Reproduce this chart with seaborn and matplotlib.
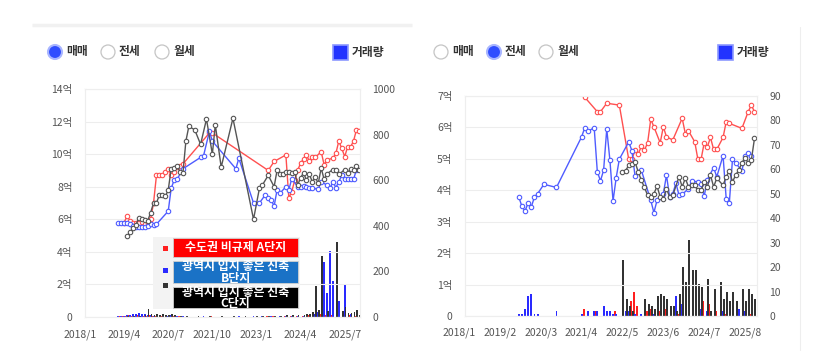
import matplotlib
matplotlib.use("Agg")
import matplotlib.pyplot as plt
from matplotlib.patches import Circle, Rectangle
from matplotlib.transforms import blended_transform_factory, offset_copy
import numpy as np
import seaborn as sns

# month index counted from 2018/1 (0 = 2018/1)

# ---- 매매 panel: prices in 억 ----
sale_a_month = [15, 16, 17, 18, 19, 20, 21, 22, 23, 24, 25, 26, 27, 28, 29, 30, 31, 32, 33, 34, 35, 44, 45,
                64, 66, 70, 71, 72, 73, 74, 75, 76, 77, 78, 79, 80, 82, 83, 84, 86, 87, 88, 89, 90, 91, 92, 93, 94, 95]
sale_a_price = [5.8, 6.2, 5.9, 5.8, 5.75, 5.8, 5.85, 5.7, 5.8, 6.0, 7.0, 8.7, 8.7, 8.7, 8.9, 9.1, 8.7, 8.9, 9.2, 9.3, 9.4, 11.3, 11.3,
                9.0, 9.55, 9.95, 7.3, 7.7, 8.4, 9.0, 9.45, 9.7, 9.95, 9.55, 9.85, 9.8, 10.15, 9.35, 9.65, 9.75, 10.05, 10.8, 10.35, 9.85, 10.45, 10.45, 10.8, 11.5, 11.4]

sale_b_month = [13, 14, 15, 16, 17, 18, 19, 20, 21, 22, 23, 24, 25, 26, 30, 31, 32, 33, 35, 41, 42, 44, 45, 53, 54,
                59, 61, 63, 64, 65, 66, 67, 68, 70, 71, 72, 74, 75, 76, 77, 78, 79, 81, 82, 84, 85, 86, 87, 88, 89, 90, 91, 92, 93, 94]
sale_b_price = [5.8, 5.75, 5.75, 5.8, 5.7, 5.6, 5.55, 5.5, 5.5, 5.5, 5.6, 5.7, 5.65, 5.7, 6.5, 7.9, 8.4, 8.45, 9.1, 9.8, 9.9, 11.4, 10.8, 9.1, 9.75,
                7.0, 7.0, 7.5, 7.3, 7.2, 6.8, 7.8, 7.6, 8.0, 7.8, 8.5, 8.0, 8.0, 8.05, 8.0, 7.9, 7.9, 7.85, 8.3, 8.1, 7.9, 8.3, 7.95, 8.3, 8.7, 8.5, 8.45, 8.45, 8.45, 9.05]

sale_c_month = [16, 17, 18, 19, 20, 21, 22, 23, 24, 25, 26, 27, 28, 29, 30, 31, 32, 33, 34, 35, 36, 37, 39, 41, 43, 45, 46, 48, 52,
                59, 61, 62, 64, 66, 67, 68, 69, 70, 71, 72, 73, 74, 75, 76, 77, 78, 79, 80, 81, 82, 83, 84, 86, 87, 88, 90, 91, 92, 93, 94, 95]
sale_c_price = [4.95, 5.2, 5.45, 5.65, 6.1, 6.0, 5.95, 5.9, 6.4, 7.0, 7.0, 7.5, 7.5, 7.4, 7.8, 9.1, 9.15, 9.3, 8.9, 8.85, 10.8, 11.7, 11.5, 10.6, 12.15, 10.0, 11.8, 9.2, 12.2,
                6.0, 7.9, 8.1, 8.7, 8.0, 9.0, 8.75, 8.75, 8.9, 8.9, 8.85, 8.9, 8.1, 8.55, 8.85, 8.4, 8.75, 8.3, 8.6, 8.2, 9.15, 8.45, 8.8, 9.05, 9.0, 8.75, 9.05, 8.85, 9.1, 9.05, 9.3, 9.05]

# 매매 거래량
sale_a_vol_month = [14, 15, 16, 17, 18, 19, 20, 21, 22, 23, 24, 25, 26, 28, 30, 32, 34, 45, 64, 66, 70, 72, 74, 76, 78, 80, 82, 84, 86, 88, 90, 92, 94]
sale_a_vol = [4, 6, 5, 8, 6, 5, 7, 4, 6, 5, 8, 6, 5, 4, 6, 4, 3, 3, 4, 5, 6, 5, 6, 4, 8, 10, 12, 9, 8, 10, 14, 9, 6]
sale_b_vol_month = [13, 14, 15, 16, 17, 18, 19, 20, 21, 22, 23, 24, 25, 26, 30, 31, 33, 35, 42, 44, 54, 59, 62, 65, 68, 70, 72, 74, 76, 78, 80, 81,
                    83, 84, 85, 86, 88, 90, 92, 94]
sale_b_vol = [4, 5, 6, 8, 10, 12, 14, 16, 15, 12, 10, 8, 6, 5, 5, 8, 6, 4, 3, 3, 3, 4, 3, 4, 5, 5, 6, 5, 6, 8, 12, 20,
              240, 107, 290, 157, 69, 139, 12, 10]
sale_c_vol_month = [16, 18, 20, 22, 23, 24, 25, 26, 27, 28, 29, 30, 31, 32, 34, 36, 40, 44, 48, 52, 56, 60, 62, 64, 66, 68, 70, 72, 74, 76, 77, 78, 79,
                    80, 81, 82, 84, 87, 89, 90, 91, 92, 93, 94, 95]
sale_c_vol = [4, 5, 6, 8, 33, 12, 10, 14, 9, 11, 8, 10, 12, 7, 6, 5, 4, 5, 3, 4, 3, 4, 5, 6, 5, 6, 8, 7, 9, 10, 12, 15, 22,
              136, 30, 269, 25, 329, 25, 43, 17, 17, 20, 29, 10]

# ---- 전세 panel ----
jeonse_a_month = [40, 44, 45, 47, 51, 54, 55, 56, 57, 58, 59, 60, 61, 62, 64, 65, 66, 68, 71, 72, 73, 75, 76, 77, 78, 79, 80, 81, 82,
                  84, 85, 86, 90, 92, 93, 94]
jeonse_a_price = [6.96, 6.5, 6.5, 6.77, 6.71, 4.98, 4.98, 5.28, 5.15, 5.4, 5.28, 5.51, 6.26, 6.02, 5.51, 6.02, 5.7, 5.6, 6.29, 5.8, 5.89, 5.54,
                  4.98, 4.98, 5.51, 5.38, 5.68, 5.3, 5.3, 5.68, 6.18, 6.13, 5.97, 6.5, 6.71, 6.5]

jeonse_b_month = [19, 20, 21, 22, 23, 24, 25, 27, 31, 39, 40, 41, 43, 44, 45, 46, 47, 48, 49, 50, 51, 54, 55, 56, 58, 61, 62, 63, 65, 66,
                  67, 68, 69, 70, 71, 73, 74, 76, 77, 78, 79, 81, 82, 84, 85, 86, 87, 88, 90, 91, 92, 93]
jeonse_b_price = [3.79, 3.49, 3.34, 3.6, 3.47, 3.79, 3.89, 4.19, 4.09, 5.7, 5.99, 5.88, 5.99, 4.59, 4.3, 4.64, 5.95, 4.96, 3.66, 4.4, 4.99,
                  5.54, 5.26, 4.45, 4.64, 3.68, 3.29, 3.68, 3.89, 4.48, 3.79, 3.89, 4.23, 3.84, 3.87, 4.05, 4.29, 4.27, 4.21, 3.81, 4.34,
                  4.72, 4.43, 5.1, 3.73, 3.6, 4.98, 4.87, 4.62, 5.09, 5.19, 5.09]

jeonse_c_month = [52, 53, 54, 55, 56, 57, 58, 59, 60, 61, 62, 63, 64, 65, 66, 67, 68, 70, 71, 72, 73, 74, 75, 76, 77, 78, 79, 80, 81, 82,
                  84, 85, 86, 87, 88, 89, 90, 91, 92, 93, 94]
jeonse_c_price = [4.59, 4.62, 4.8, 4.85, 4.9, 4.59, 4.32, 4.09, 3.84, 3.79, 3.89, 4.13, 3.79, 3.73, 4.05, 3.79, 3.84, 4.43, 4.11, 4.38, 4.11,
                  4.16, 4.16, 4.0, 4.0, 4.27, 4.11, 4.48, 4.11, 4.38, 4.16, 4.43, 4.62, 4.27, 4.48, 4.64, 4.87, 5.04, 4.87, 4.96, 5.65]

# 전세 거래량
jeonse_a_vol_month = [40, 44, 50, 55, 56, 57, 60, 61, 64, 66, 70, 78, 80, 82, 85, 91, 93]
jeonse_a_vol = [3, 2, 2, 6, 10, 4, 2, 3, 2, 3, 1, 6, 5, 2, 1, 1, 1]
jeonse_b_vol_month = [19, 20, 21, 22, 23, 24, 25, 31, 39, 41, 43, 44, 46, 47, 48, 49, 50, 53, 54, 56, 58, 62, 66, 69, 71, 77, 79, 84, 89, 91]
jeonse_b_vol = [1, 1, 3, 8, 9, 1, 1, 2, 1, 2, 2, 2, 4, 2, 2, 1, 1, 2, 2, 1, 1, 1, 1, 8, 5, 3, 2, 2, 3, 2]
jeonse_c_vol_month = [52, 53, 54, 55, 59, 60, 61, 62, 63, 64, 65, 66, 67, 68, 69, 70, 71, 72, 73, 74, 75, 76, 77, 79, 80, 81, 83, 84, 85, 86,
                      87, 88, 90, 91, 92, 93, 94]
jeonse_c_vol = [23, 7, 4, 2, 7, 5, 4, 3, 8, 9, 8, 7, 4, 4, 2, 9, 20, 14, 31, 19, 19, 13, 12, 15, 2, 11, 14, 7, 10, 6,
                10, 6, 11, 6, 11, 9, 7]

series_names = ["수도권 비규제 A단지", "광역시 입지 좋은 신축\nB단지", "광역시 입지 좋은 신축\nC단지"]
sale_ticks = ["2018/1", "2019/4", "2020/7", "2021/10", "2023/1", "2024/4", "2025/7"]
jeonse_ticks = ["2018/1", "2019/2", "2020/3", "2021/4", "2022/5", "2023/6", "2024/7", "2025/8"]

line_colors = ["#ff5050", "#4f5cff", "#555555"]
bar_colors = ["#ff1f1f", "#2a2aff", "#333333"]
bar_offsets = [-0.3, 0.0, 0.3]

sns.set_theme(style="white")
plt.rcParams['font.family'] = ['Noto Sans CJK KR', 'DejaVu Sans']

fig = plt.figure(figsize=(8.16, 3.63), dpi=100)
W, H = 816, 363


def month_of(label):
    y, m = label.split("/")
    return (int(y) - 2018) * 12 + int(m) - 1


def panel(px_box, xlim, lines, bars, pmax, vmax, vstep, ticks, label_drop):
    x0, y0, x1, y1 = px_box
    ax = fig.add_axes([x0 / W, 1 - y1 / H, (x1 - x0) / W, (y1 - y0) / H])
    axv = ax.twinx()
    ax.set_zorder(axv.get_zorder() + 1)
    ax.patch.set_visible(False)

    for (months, counts), col, off in zip(bars, bar_colors, bar_offsets):
        axv.bar(np.array(months) + off, counts, width=0.6, color=col, linewidth=0)

    for (months, prices), col in zip(lines, line_colors):
        sns.lineplot(x=months, y=prices, ax=ax, color=col, linewidth=1,
                     marker="o", markersize=3.2, markerfacecolor="white",
                     markeredgecolor=col, markeredgewidth=0.8)

    ax.set_xlim(*xlim)
    ax.set_ylim(0, pmax)
    axv.set_ylim(0, vmax)
    ax.set_yticks(range(0, pmax + 1, 2 if pmax > 10 else 1))
    ax.set_yticklabels(["0" if v == 0 else f"{v}억" for v in ax.get_yticks().astype(int)])
    axv.set_yticks(range(0, vmax + 1, vstep))
    ax.set_xticks([])
    ax.set_xlabel("")
    ax.set_ylabel("")
    ax.tick_params(axis="y", length=0, labelsize=7.5, labelcolor="#555555", pad=9)
    axv.tick_params(axis="y", length=0, labelsize=7.5, labelcolor="#555555", pad=9)
    ax.yaxis.grid(True, color="#ededed", linewidth=0.8)
    ax.xaxis.grid(False)
    for a in (ax, axv):
        for s in a.spines.values():
            s.set_color("#eeeeee")
            s.set_linewidth(0.8)

    trans = offset_copy(blended_transform_factory(ax.transData, ax.transAxes),
                        fig=fig, x=0, y=-label_drop, units="dots")
    for lab in ticks:
        ax.text(month_of(lab), 0, lab, transform=trans, ha="center", va="top",
                fontsize=7.5, color="#555555", clip_on=False)
    return ax


panel((85, 89, 360, 317), (1.7, 95.2),
      [(sale_a_month, sale_a_price), (sale_b_month, sale_b_price), (sale_c_month, sale_c_price)],
      [(sale_a_vol_month, sale_a_vol), (sale_b_vol_month, sale_b_vol), (sale_c_vol_month, sale_c_vol)],
      14, 1000, 200, sale_ticks, 12)

panel((465, 96, 757, 316), (1.9, 94.8),
      [(jeonse_a_month, jeonse_a_price), (jeonse_b_month, jeonse_b_price), (jeonse_c_month, jeonse_c_price)],
      [(jeonse_a_vol_month, jeonse_a_vol), (jeonse_b_vol_month, jeonse_b_vol), (jeonse_c_vol_month, jeonse_c_vol)],
      7, 90, 10, jeonse_ticks, 11)

# overlay in pixel coordinates for the page widgets
ov = fig.add_axes([0, 0, 1, 1], zorder=20)
ov.set_xlim(0, W)
ov.set_ylim(H, 0)
ov.axis("off")
ov.patch.set_visible(False)

ov.plot([32, 412], [25, 25], color="#f1f1f1", linewidth=2.5, solid_capstyle="butt")
ov.plot([800, 800], [27, 350], color="#eeeeee", linewidth=0.8)


def radio(x, y, text, on):
    if on:
        ov.add_patch(Circle((x, y), 7, facecolor="#2f4dff", edgecolor="#a9b6ff", linewidth=1.5))
    else:
        ov.add_patch(Circle((x, y), 7, facecolor="white", edgecolor="#c4c4c4", linewidth=0.9))
    ov.text(x + 11, y, text, ha="left", va="center", fontsize=8.5, fontweight="bold", color="#333333")


modes = ["매매", "전세", "월세"]
for i, (mx, name) in enumerate(zip([55, 108, 162], modes)):
    radio(mx, 52, name, i == 0)
for i, (mx, name) in enumerate(zip([441, 494, 546], modes)):
    radio(mx, 52, name, i == 1)

for bx in (333, 718):
    ov.add_patch(Rectangle((bx, 45), 15, 15, facecolor="#2233ff", edgecolor="#8c98ff", linewidth=1.2))
    ov.text(bx + 19, 52.5, "거래량", ha="left", va="center", fontsize=8.5, fontweight="bold", color="#333333")

# legend box of the left panel
ov.add_patch(Rectangle((153, 237), 147, 72, facecolor="#f3f3f3", edgecolor="none"))
box_faces = ["#ff0000", "#1a72c6", "#000000"]
box_rows = [(238, 19), (261, 22), (287, 21)]
mark_y = [248, 270, 285]
for name, face, (ty, th), my, mc in zip(series_names, box_faces, box_rows, mark_y, bar_colors):
    ov.add_patch(Rectangle((173, ty), 125, th, facecolor=face, edgecolor="#d0d0d0", linewidth=0.6))
    ov.add_patch(Rectangle((163, my - 2.5), 5, 5, facecolor=mc, edgecolor="none"))
    ov.text(235.5, ty + th / 2 + 0.5, name, ha="center", va="center", fontsize=8.6,
            fontweight="bold", color="white", linespacing=0.82)

fig.savefig("out.png", dpi=100, facecolor="white")
